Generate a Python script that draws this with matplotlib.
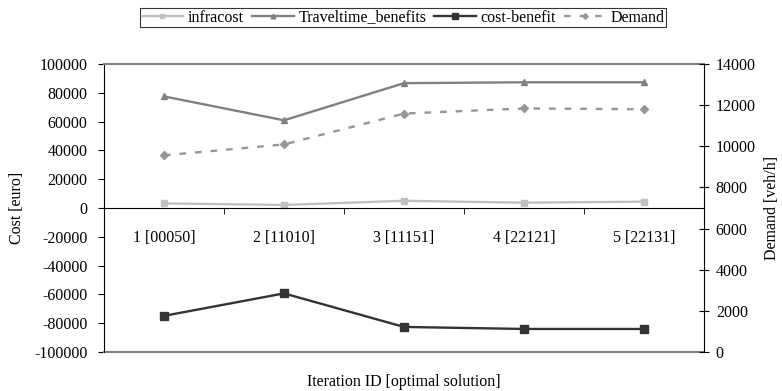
import matplotlib
matplotlib.use("Agg")
import matplotlib.pyplot as plt
from matplotlib.ticker import FixedLocator
from matplotlib.lines import Line2D

categories = ["1 [00050]", "2 [11010]", "3 [11151]", "4 [22121]", "5 [22131]"]
infracost = [3200, 2100, 5000, 3700, 4400]
traveltime_benefits = [77500, 60900, 86700, 87300, 87300]
cost_benefit = [-74900, -59300, -82600, -84000, -84000]
demand = [9560, 10090, 11590, 11840, 11800]

cost_ticks = list(range(-100000, 100001, 20000))
demand_ticks = list(range(0, 14001, 2000))

plt.rcParams['font.family'] = ['Liberation Serif', 'DejaVu Serif']
plt.rcParams['axes.unicode_minus'] = False
fs = 11.5

fig = plt.figure(figsize=(7.82, 3.91), dpi=100)
ax = fig.add_axes([104/782, 1-352/391, 600/782, 288/391])
ax2 = ax.twinx()

x = list(range(1, len(categories) + 1))

styles = [
    dict(color='#c0c0c0', lw=1.7, marker='s', ms=4.2),
    dict(color='#808080', lw=1.7, marker='^', ms=4.5),
    dict(color='#333333', lw=1.7, marker='s', ms=5.5),
    dict(color='#969696', lw=1.7, ls=(0, (2.8, 3.8)), marker='D', ms=3.8),
]
labels = ['infracost', 'Traveltime_benefits', 'cost-benefit', 'Demand']

ax.plot(x, infracost, **styles[0])
ax.plot(x, traveltime_benefits, **styles[1])
ax.plot(x, cost_benefit, **styles[2])
ax2.plot(x, demand, **styles[3])

ax.set_xlim(0.5, len(categories) + 0.5)
ax.set_ylim(-100000, 100000)
ax2.set_ylim(0, 14000)
ax.set_yticks(cost_ticks)
ax2.set_yticks(demand_ticks)
ax.tick_params(axis='y', direction='out', length=4, labelsize=fs, pad=8)
ax2.tick_params(axis='y', direction='inout', length=7, labelsize=fs, pad=5)

# category axis crossing at zero
ax.spines['bottom'].set_position(('data', 0))
ax.spines['bottom'].set_color('black')
ax.set_xticks(x)
ax.set_xticklabels(categories, fontsize=fs)
ax.xaxis.set_minor_locator(FixedLocator([i + 0.5 for i in x[:-1]]))
ax.tick_params(axis='x', which='major', length=0, pad=16)
ax.tick_params(axis='x', which='minor', direction='out', length=4)
ax.axhline(-100000, color='#808080', lw=1.5, clip_on=False)

ax.spines['top'].set_color('#808080')
ax.spines['top'].set_linewidth(1.5)
ax2.spines['top'].set_visible(False)
ax2.spines['bottom'].set_visible(False)
ax2.spines['left'].set_visible(False)
ax.spines['right'].set_visible(False)
ax.spines['left'].set_color('black')
ax2.spines['right'].set_color('black')

ax.set_ylabel('Cost [euro]', fontsize=fs, va='center')
ax.yaxis.set_label_coords(-(104 - 17) / 600, 0.5)
ax2.set_ylabel('Demand [veh/h]', fontsize=fs, va='center')
ax2.yaxis.set_label_coords(1 + (772 - 704) / 600, 0.5)
fig.text(0.5 * (104 + 704) / 782, 1 - 382/391, 'Iteration ID [optimal solution]', ha='center', va='center', fontsize=fs)

proxies = []
for st in styles:
    st2 = dict(st)
    st2['ms'] = st2['ms'] * 0.75
    proxies.append(Line2D([], [], **st2))
leg = fig.legend(handles=proxies, labels=labels, loc='upper center', bbox_to_anchor=(403/782, 1 - 8/391),
                 ncol=4, fontsize=fs, frameon=True, fancybox=False, handlelength=2.6,
                 handletextpad=0.3, columnspacing=0.5, borderpad=0.1, borderaxespad=0.0)
leg.get_frame().set_edgecolor('black')
leg.get_frame().set_linewidth(0.8)

fig.savefig('out.png', dpi=100)
